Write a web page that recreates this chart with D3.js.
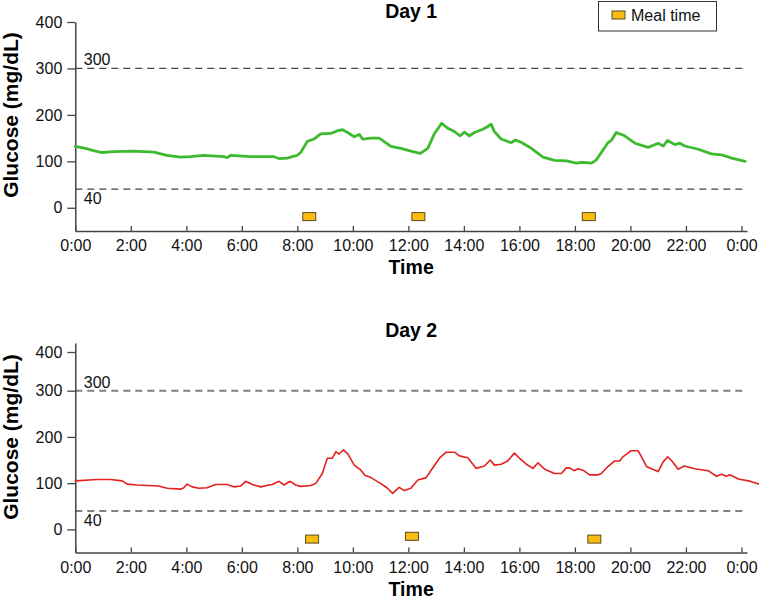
<!DOCTYPE html>
<html><head><meta charset="utf-8">
<script src="https://cdn.jsdelivr.net/npm/d3@7"></script>
<style>body{margin:0;background:#fff}svg{display:block}text{font-family:Arial,"Liberation Sans",sans-serif}</style>
</head><body><svg id="c" width="759" height="600"></svg>
<script>
// ---- data ----
const day1Hours = [0,0.36,0.66,0.96,1.38,2.1,2.83,3.3,3.79,4.15,4.63,5.35,5.47,5.6,6.32,7.16,7.34,7.64,7.82,8.0,8.12,8.36,8.6,8.84,9.2,9.45,9.63,9.81,10.05,10.23,10.35,10.65,10.95,11.37,11.73,12.09,12.43,12.7,12.94,13.2,13.42,13.66,13.87,14.02,14.2,14.38,14.68,14.86,14.98,15.1,15.34,15.7,15.86,16.06,16.43,16.85,17.27,17.69,18.05,18.23,18.6,18.77,19.19,19.31,19.49,19.79,20.16,20.64,21.0,21.18,21.34,21.6,21.78,21.96,22.44,22.92,23.29,23.65,24.13];
const day1Glucose = [132,128,123,119,121,122,120,113,109,110,113,110,108,113,110,110,106,107,110,113,119,143,148,159,160,166,168,162,153,158,148,150,150,132,128,122,117,128,160,182,171,164,155,163,155,162,169,175,180,164,148,140,146,141,128,109,102,101,96,98,96,103,140,145,162,155,139,130,139,133,145,136,139,133,126,116,114,107,100];
const day2Hours = [0,0.78,1.26,1.69,1.87,2.23,3.0,3.31,3.79,3.91,4.03,4.21,4.45,4.75,5.05,5.47,5.71,5.96,6.14,6.38,6.68,6.98,7.1,7.34,7.52,7.74,7.94,8.12,8.48,8.66,8.9,9.08,9.26,9.39,9.5,9.66,9.81,10.05,10.29,10.43,10.65,11.01,11.25,11.43,11.67,11.85,12.09,12.34,12.64,12.82,13.12,13.36,13.66,13.84,14.14,14.44,14.74,14.95,15.1,15.34,15.58,15.82,16.0,16.25,16.49,16.67,16.91,17.27,17.51,17.69,17.81,17.97,18.11,18.29,18.53,18.84,18.95,19.19,19.43,19.61,19.73,20.01,20.28,20.4,20.58,20.76,21.0,21.18,21.34,21.48,21.72,21.94,22.32,22.8,23.1,23.28,23.46,23.58,23.89,24.25,24.67];
const day2Glucose = [105,108,108,105,98,96,94,89,87,90,98,92,89,90,97,97,92,94,104,97,92,96,97,104,96,104,96,93,95,99,121,154,154,168,163,172,164,139,128,117,112,99,89,78,91,84,89,107,112,128,154,167,167,159,155,132,137,150,139,141,148,165,154,141,132,144,130,121,121,133,133,127,131,128,118,118,121,136,148,148,157,170,170,157,136,131,125,146,157,149,130,137,131,127,115,119,115,118,109,105,97];
const day1MealHours = [8.43, 12.36, 18.5];
const day1MealMarks = [-19, -19, -19];
const day2MealHours = [8.53, 12.13, 18.7];
const day2MealMarks = [-21, -15, -21];
const timeTicks = [0,2,4,6,8,10,12,14,16,18,20,22,24];
const timeLabels = ["0:00","2:00","4:00","6:00","8:00","10:00","12:00","14:00","16:00","18:00","20:00","22:00","0:00"];
const glucoseTicks = [0,100,200,300,400];
const thresholds = [300, 40];
const titles = ["Day 1", "Day 2"];
const legendLabel = "Meal time";

// ---- drawing ----
const svg = d3.select("#c");
const xLeft = 75.3, xRight = 747;

function panel(opts){
  const g = svg.append("g");
  const x = d3.scaleLinear().domain([0, 24.2]).range([xLeft, xRight]);
  const y = d3.scaleLinear().domain(opts.yDomain).range(opts.yRange);
  const yBase = opts.yRange[0];
  const lblX = 17.5;

  // thresholds
  thresholds.forEach((t,i)=>{
    g.append("line").attr("x1", x(0)).attr("x2", x(24.1)).attr("y1", y(t)).attr("y2", y(t))
      .attr("stroke", opts.dashColor).attr("stroke-width", opts.dashWidth).attr("stroke-dasharray","7,5");
    g.append("text").attr("x", x(0)+8.5).attr("y", i===0 ? y(t)-3 : y(t)+15)
      .attr("font-size", 16).attr("fill", "#111").text(t);
  });

  // axes
  const ya = d3.axisLeft(y).tickValues(glucoseTicks).tickSizeInner(8).tickSizeOuter(0).tickPadding(5);
  const yg = g.append("g").attr("transform", `translate(${xLeft},0)`).call(ya);
  const xa = d3.axisBottom(x).tickValues(timeTicks).tickFormat((d,i)=>timeLabels[i]).tickSizeInner(-5).tickSizeOuter(0);
  const xg = g.append("g").attr("transform", `translate(0,${yBase})`).call(xa);
  [yg, xg].forEach(a=>{
    a.select(".domain").attr("stroke", "#444").attr("stroke-width", 1.5);
    a.selectAll(".tick line").attr("stroke", "#444").attr("stroke-width", 1.3);
    a.selectAll(".tick text").attr("font-size", 16).attr("fill", "#111").attr("font-family", "Arial, 'Liberation Sans', sans-serif");
  });
  xg.selectAll(".tick text").attr("y", 20).attr("dy", 0);

  // glucose line
  const pts = opts.hours.map((h,i)=>[h, opts.values[i]]);
  g.append("path").datum(pts)
    .attr("d", d3.line().x(d=>x(d[0])).y(d=>y(d[1])))
    .attr("fill","none").attr("stroke", opts.color).attr("stroke-width", opts.lineWidth)
    .attr("stroke-linejoin","round").attr("stroke-linecap","round");

  // meal markers
  g.selectAll("rect.meal").data(opts.mealHours.map((h,i)=>[h, opts.mealMarks[i]])).enter()
    .append("rect").attr("class","meal")
    .attr("x", d=>x(d[0])-6.5).attr("y", d=>y(d[1])-4).attr("width", 13).attr("height", 8)
    .attr("fill", "#f9bd12").attr("stroke", "#5a4a20").attr("stroke-width", 1);

  // titles
  const cx = (xLeft + xRight)/2;
  g.append("text").attr("x", cx).attr("y", opts.titleY).attr("text-anchor","middle")
    .attr("font-size", 19.5).attr("font-weight","bold").text(opts.title);
  g.append("text").attr("x", cx).attr("y", yBase + 43).attr("text-anchor","middle")
    .attr("font-size", 19.5).attr("font-weight","bold").text("Time");
  g.append("text").attr("transform", `translate(${lblX},${opts.labelCY}) rotate(-90)`).attr("text-anchor","middle")
    .attr("font-size", 21).attr("font-weight","bold").text("Glucose (mg/dL)");
  return {x, y};
}

panel({hours: day1Hours, values: day1Glucose, mealHours: day1MealHours, mealMarks: day1MealMarks,
  yDomain: [-50, 400], yRange: [231, 22], color: "#3dba2f", lineWidth: 2.8,
  dashColor: "#444", dashWidth: 1.3, title: titles[0], titleY: 18, labelCY: 115});

panel({hours: day2Hours, values: day2Glucose, mealHours: day2MealHours, mealMarks: day2MealMarks,
  yDomain: [-50, 300, 400, 419], yRange: [552.5, 390.7, 352, 343], color: "#e3211f", lineWidth: 1.6,
  dashColor: "#7f7f7f", dashWidth: 2, title: titles[1], titleY: 337, labelCY: 437});

// legend
const lg = svg.append("g");
lg.append("rect").attr("x", 598.5).attr("y", 1.5).attr("width", 118).attr("height", 29.5)
  .attr("fill","#fff").attr("stroke","#333").attr("stroke-width",1);
lg.append("rect").attr("x", 612).attr("y", 11).attr("width", 13).attr("height", 8)
  .attr("fill","#f9bd12").attr("stroke","#5a4a20").attr("stroke-width",1);
lg.append("text").attr("x", 631).attr("y", 21).attr("font-size", 16).attr("fill","#111").text(legendLabel);
</script></body></html>
